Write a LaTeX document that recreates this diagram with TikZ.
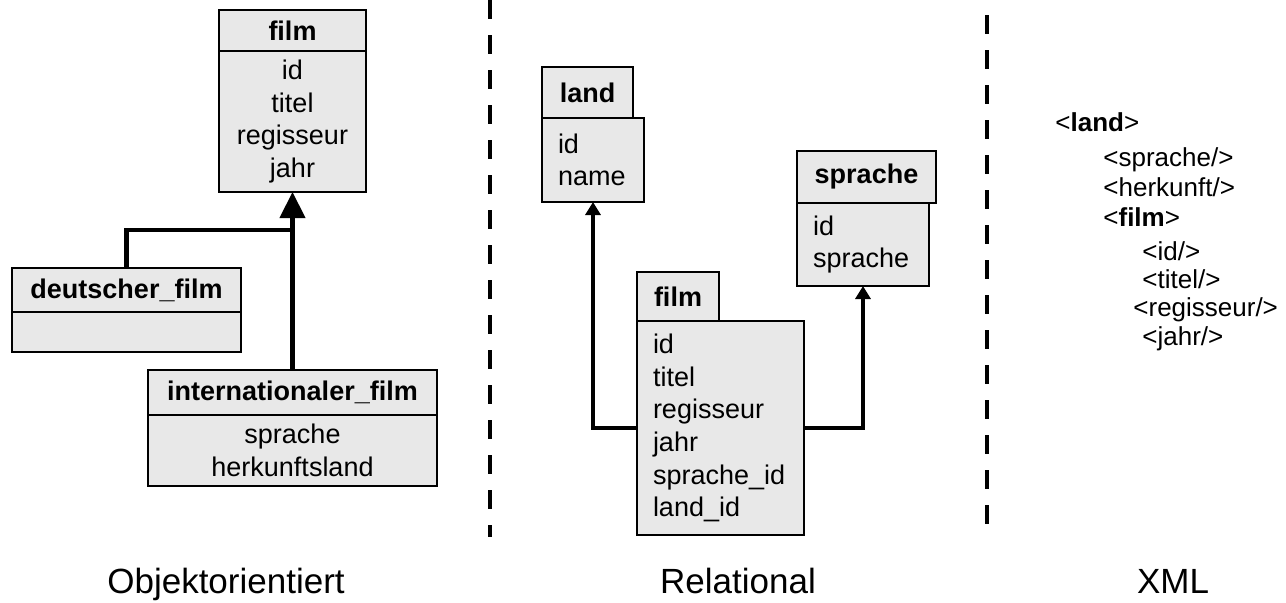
\documentclass[tikz,border=0pt]{standalone}
\usepackage{fontspec}
\setmainfont{Liberation Sans}
\usepackage{tikz}
\usetikzlibrary{arrows.meta,positioning}
\definecolor{boxfill}{HTML}{E8E8E8}

\begin{document}
\begin{tikzpicture}[x=0.5pt,y=-0.5pt,
  box/.style={draw,fill=boxfill,line width=1pt,inner sep=0pt,outer sep=0pt,anchor=north west},
  head/.style={box,font=\fontsize{13.5}{16.3}\selectfont\bfseries,align=center},
  attr/.style={box,font=\fontsize{13.5}{16.3}\selectfont},
  inherit/.style={line width=2.2pt},
  fk/.style={line width=2pt,-{Triangle[length=6.5pt,width=7.5pt]}},
  sep/.style={line width=2.2pt,dash pattern=on 9.5pt off 8pt},
  xml/.style={anchor=base west,font=\fontsize{13}{15}\selectfont,inner sep=0pt},
  lbl/.style={anchor=base,font=\fontsize{17.5}{21}\selectfont}]
  \useasboundingbox (0,0) rectangle (1286,602);
  \node[head,minimum width=73.5pt,minimum height=20.5pt] (filmH) at (219,10) {film};
  \node[attr,minimum width=73.5pt,minimum height=70.5pt,align=center] (filmB) at (filmH.south west) {id\\titel\\regisseur\\jahr};
  \node[head,minimum width=114.5pt,minimum height=22pt] (dfH) at (12,268) {deutscher\_film};
  \node[attr,minimum width=114.5pt,minimum height=20pt] (dfB) at (dfH.south west) {};
  \node[head,minimum width=144.5pt,minimum height=22.5pt] (ifH) at (148,370) {internationaler\_film};
  \node[attr,minimum width=144.5pt,minimum height=35.5pt,align=center] (ifB) at (ifH.south west) {sprache\\herkunftsland};
  \coordinate (join) at (292.5,230);
  \draw[inherit,-{Triangle[length=13pt,width=12.5pt]}] (ifH.north) -- (filmB.south);
  \draw[inherit] (dfH.north) |- (join);
  \draw[sep] (490,0) -- (490,537);
  \node[head,minimum width=45.5pt,minimum height=25.5pt] (landH) at (542,67) {land};
  \node[attr,minimum width=51pt,minimum height=42pt,text width=35pt,inner xsep=8pt,align=left] (landB) at (landH.south west) {id\\name};
  \node[head,minimum width=69.5pt,minimum height=26pt] (spH) at (797,151) {sprache};
  \node[attr,minimum width=66pt,minimum height=41.5pt,text width=50pt,inner xsep=8pt,align=left] (spB) at (spH.south west) {id\\sprache};
  \node[head,minimum width=41pt,minimum height=24.5pt] (frH) at (637,272) {film};
  \node[attr,minimum width=83.5pt,minimum height=107pt,text width=67.5pt,inner xsep=8pt,align=left] (frB) at (frH.south west) {id\\titel\\regisseur\\jahr\\sprache\_id\\land\_id};
  \draw[fk] (frB.west) -| (landB.south);
  \draw[fk] (frB.east) -| (spB.south);
  \draw[sep] (987,15) -- (987,535);
  \node[xml] (xLand) at (1055,131) {<\textbf{land}>};
  \node[xml] (xSprache) at (1103,166) {<sprache/>};
  \node[xml] (xHerkunft) at (1103,196) {<herkunft/>};
  \node[xml] (xFilm) at (1103,226) {<\textbf{film}>};
  \node[xml] (xId) at (1142,260) {<id/>};
  \node[xml] (xTitel) at (1142,288) {<titel/>};
  \node[xml] (xRegisseur) at (1133,316) {<regisseur/>};
  \node[xml] (xJahr) at (1142,345) {<jahr/>};
  \node[lbl] (lblOO) at (226,593) {Objektorientiert};
  \node[lbl] (lblRel) at (738,593) {Relational};
  \node[lbl] (lblXml) at (1173,593) {XML};
\end{tikzpicture}
\end{document}
